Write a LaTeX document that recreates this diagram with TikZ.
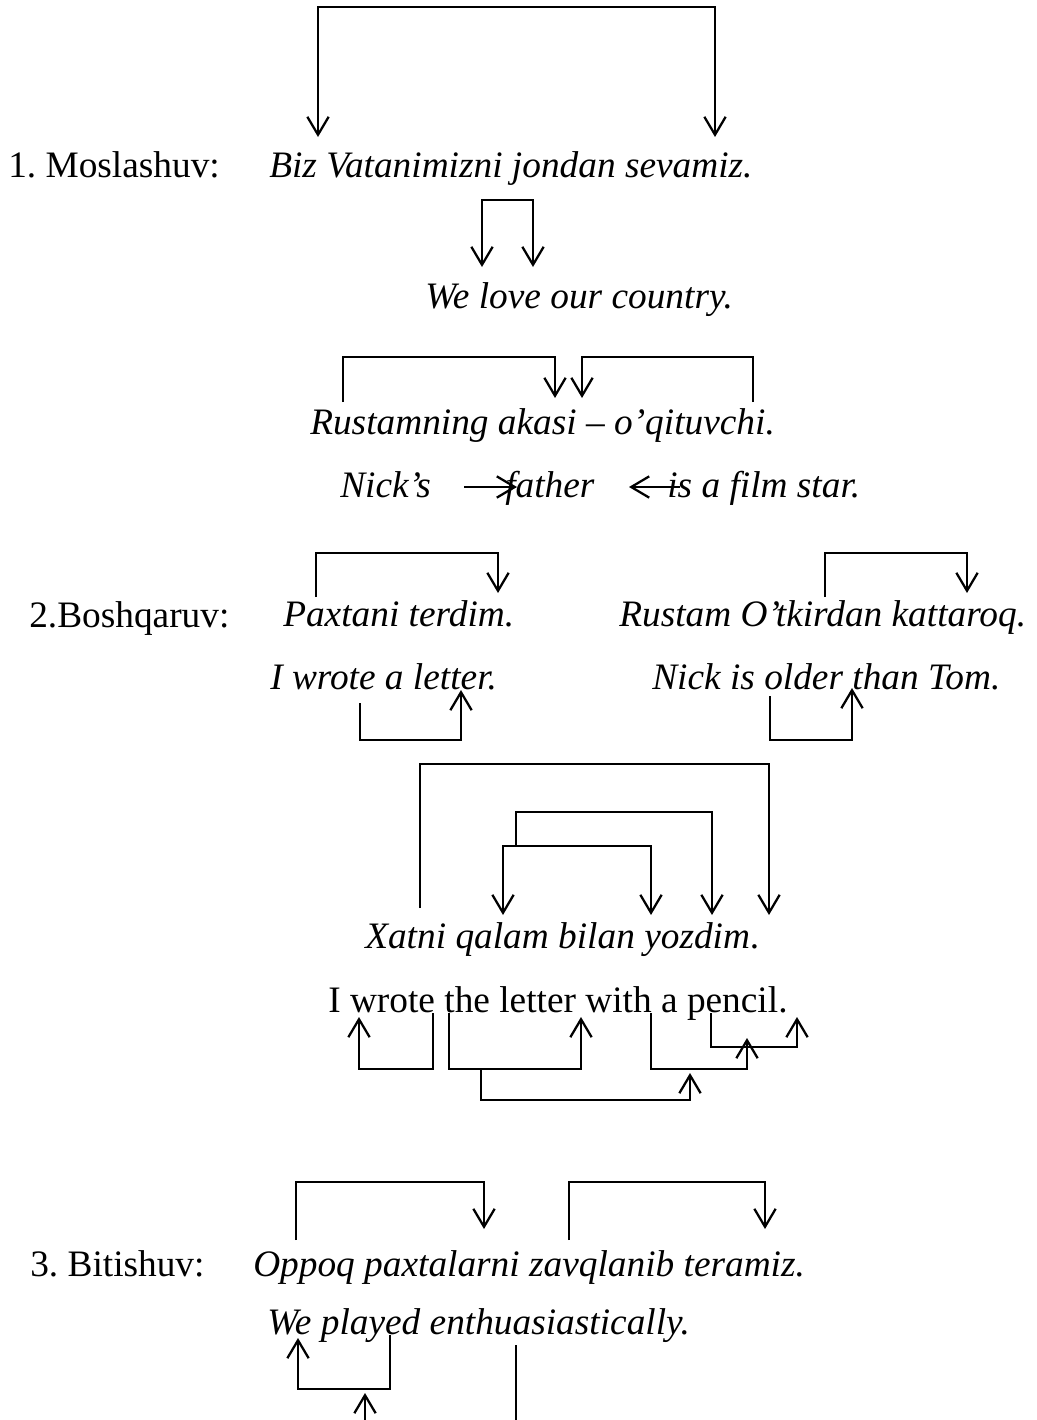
\documentclass[tikz,border=0pt]{standalone}
\usepackage{fontspec}
\setmainfont{Liberation Serif}
\usetikzlibrary{arrows.meta}
\frenchspacing

\begin{document}
\begin{tikzpicture}[x=0.75pt,y=0.75pt,yscale=-1,xscale=1,
  txt/.style={anchor=base west,inner sep=0pt,font=\fontsize{28}{34}\selectfont},
  ex/.style={txt,font=\fontsize{28}{34}\selectfont\itshape},
  bar/.style={line width=1.5pt},
  link/.style={bar,-{Straight Barb[length=13.5pt,width=16pt,line width=1.7pt]}},
  bilink/.style={bar,{Straight Barb[length=13.5pt,width=16pt,line width=1.7pt]}-{Straight Barb[length=13.5pt,width=16pt,line width=1.7pt]}}]
\useasboundingbox (0,0) rectangle (1037,1420);

% Text Node
\node[txt] (h1) at (8,177) {1. Moslashuv:};
\node[ex] (s1) at (269,177) {Biz Vatanimizni jondan sevamiz.};
\node[ex] (s2) at (425,308) {We love our country.};
\node[ex] (s3) at (310,434) {Rustamning akasi – o’qituvchi.};
\node[ex] (s4a) at (340,497) {Nick’s};
\node[ex] (s4b) at (505,497) {father};
\node[ex] (s4c) at (667,497) {is a film star.};
% Text Node
\node[txt] (h2) at (29,627) {2.Boshqaruv:};
\node[ex] (s5) at (283,626) {Paxtani terdim.};
\node[ex] (s6) at (619,626) {Rustam O’tkirdan kattaroq.};
\node[ex] (s7) at (270,689) {I wrote a letter.};
\node[ex] (s8) at (652,689) {Nick is older than Tom.};
\node[ex] (s9) at (365,948) {Xatni qalam bilan yozdim\upshape.};
\node[txt] (s10) at (328,1012) {I wrote the letter with a pencil.};
% Text Node
\node[txt] (h3) at (30,1276) {3. Bitishuv:};
\node[ex] (s11) at (253,1276) {Oppoq paxtalarni zavqlanib teramiz.};
\node[ex] (s12) at (267,1334) {We played enthuasiastically.};

%Moslashuv links
\coordinate (m1a) at (318,137);
\coordinate (m1b) at (715,137);
\draw[bilink] (m1a) -- ++(0,-130) -| (m1b);
\coordinate (m2a) at (482,267);
\coordinate (m2b) at (533,267);
\draw[bilink] (m2a) -- ++(0,-67) -| (m2b);
\coordinate (m3a) at (343,402);
\coordinate (m3b) at (555,398);
\draw[link] (m3a) -- ++(0,-45) -| (m3b);
\coordinate (m4a) at (753,402);
\coordinate (m4b) at (582,398);
\draw[link] (m4a) -- ++(0,-45) -| (m4b);
\coordinate (m5a) at (464,487);
\coordinate (m5b) at (517,487);
\draw[link] (m5a) -- (m5b);
\coordinate (m6a) at (680,487);
\coordinate (m6b) at (629,487);
\draw[link] (m6a) -- (m6b);

%Boshqaruv links
\coordinate (b1a) at (316,597);
\coordinate (b1b) at (498,593);
\draw[link] (b1a) -- ++(0,-44) -| (b1b);
\coordinate (b2a) at (825,597);
\coordinate (b2b) at (967,593);
\draw[link] (b2a) -- ++(0,-44) -| (b2b);
\coordinate (b3a) at (360,703);
\coordinate (b3b) at (461,690);
\draw[link] (b3a) -- ++(0,37) -| (b3b);
\coordinate (b4a) at (770,696);
\coordinate (b4b) at (852,688);
\draw[link] (b4a) -- ++(0,44) -| (b4b);
\coordinate (b5a) at (420,908);
\coordinate (b5b) at (769,915);
\draw[link] (b5a) -- ++(0,-144) -| (b5b);
\coordinate (b6a) at (516,846);
\coordinate (b6b) at (712,915);
\draw[link] (b6a) -- ++(0,-34) -| (b6b);
\coordinate (b7a) at (503,915);
\coordinate (b7b) at (651,915);
\draw[bilink] (b7a) -- ++(0,-69) -| (b7b);
\coordinate (b8a) at (433,1013);
\coordinate (b8b) at (359,1017);
\draw[link] (b8a) -- ++(0,56) -| (b8b);
\coordinate (b9a) at (449,1013);
\coordinate (b9b) at (581,1017);
\draw[link] (b9a) -- ++(0,56) -| (b9b);
\coordinate (b10a) at (481,1069);
\coordinate (b10b) at (690,1073);
\draw[link] (b10a) -- ++(0,31) -| (b10b);
\coordinate (b11a) at (651,1013);
\coordinate (b11b) at (747,1038);
\draw[link] (b11a) -- ++(0,56) -| (b11b);
\coordinate (b12a) at (711,1013);
\coordinate (b12b) at (797,1017);
\draw[link] (b12a) -- ++(0,34) -| (b12b);

%Bitishuv links
\coordinate (t1a) at (296,1240);
\coordinate (t1b) at (484,1229);
\draw[link] (t1a) -- ++(0,-58) -| (t1b);
\coordinate (t2a) at (569,1240);
\coordinate (t2b) at (765,1229);
\draw[link] (t2a) -- ++(0,-58) -| (t2b);
\coordinate (t3a) at (390,1335);
\coordinate (t3b) at (298,1338);
\draw[link] (t3a) -- ++(0,54) -| (t3b);
\coordinate (t4a) at (365,1420);
\coordinate (t4b) at (365,1393);
\draw[link] (t4a) -- (t4b);
\coordinate (t5a) at (516,1345);
\coordinate (t5b) at (516,1420);
\draw[bar] (t5a) -- (t5b);

\end{tikzpicture}
\end{document}
